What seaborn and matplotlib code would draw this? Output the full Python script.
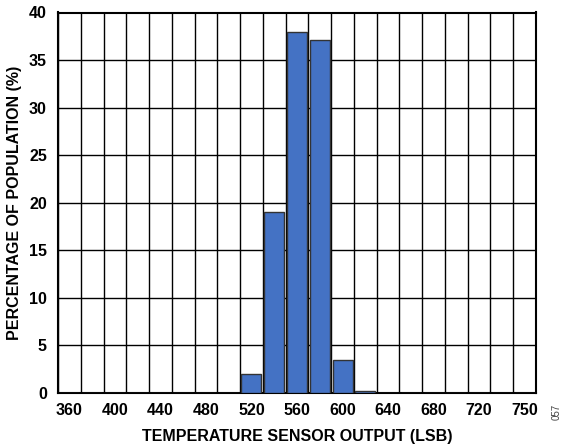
import matplotlib
matplotlib.use("Agg")
import matplotlib.pyplot as plt
import seaborn as sns
import numpy as np
import pandas as pd

# histogram bins (LSB) and share of population (%)
bins = [360, 380, 400, 420, 440, 460, 480, 500, 520, 540, 560,
        580, 600, 620, 640, 660, 680, 700, 720, 740, 760]
percent = [0, 0, 0, 0, 0, 0, 0, 0, 2.0, 19.0, 38.0,
           37.1, 3.5, 0.2, 0, 0, 0, 0, 0, 0, 0]
tick_labels = ["360", "400", "440", "480", "520", "560", "600",
               "640", "680", "720", "750"]

df = pd.DataFrame({"bin": [str(b) for b in bins], "pct": percent})

sns.set_style("white")
plt.rcParams['font.family'] = ['Liberation Sans', 'DejaVu Sans']
plt.rcParams['font.weight'] = 'bold'
plt.rcParams['text.color'] = 'black'
plt.rcParams['axes.labelcolor'] = 'black'
plt.rcParams['xtick.color'] = 'black'
plt.rcParams['ytick.color'] = 'black'

fig = plt.figure(figsize=(5.65, 4.46), dpi=100)
ax = fig.add_axes([58/565, 1 - 393/446, (536 - 58)/565, (393 - 12.5)/446])

sns.barplot(data=df, x="bin", y="pct", color="#4472C4", saturation=1,
            width=0.88, edgecolor="#333333", linewidth=1.0, ax=ax, zorder=3)

# grid: cell borders on x, every 5 % on y
n = len(bins)
ax.set_xlim(-0.5, n - 0.5)
ax.set_ylim(0, 40)
ax.set_xticks(np.arange(-0.5, n, 1.0), minor=True)
ax.set_xticks(np.arange(0, n, 2))
ax.set_xticklabels(tick_labels)
ax.set_yticks(np.arange(0, 41, 5))
ax.grid(False)
ax.grid(True, which="minor", axis="x", color="black", linewidth=1.0, zorder=0)
ax.grid(True, which="major", axis="y", color="black", linewidth=1.0, zorder=0)
ax.set_axisbelow(True)

ax.tick_params(axis="both", which="both", length=0, labelsize=11.5, labelcolor="black")
ax.tick_params(axis="x", pad=7)
ax.tick_params(axis="y", pad=8)
for lab in ax.get_xticklabels() + ax.get_yticklabels():
    lab.set_fontweight("bold")

for s in ax.spines.values():
    s.set_visible(True)
    s.set_color("black")
    s.set_linewidth(1.5)

ax.set_xlabel("TEMPERATURE SENSOR OUTPUT (LSB)", fontsize=11.5, fontweight="bold",
              labelpad=8, color="black")
ax.set_ylabel("PERCENTAGE OF POPULATION (%)", fontsize=11.5, fontweight="bold",
              labelpad=5, color="black")

fig.text(557/565, 1 - 412/446, "057", rotation=90, fontsize=7, color="#444444",
         ha="center", va="center", fontweight="normal")

fig.savefig("out.png", dpi=100)
